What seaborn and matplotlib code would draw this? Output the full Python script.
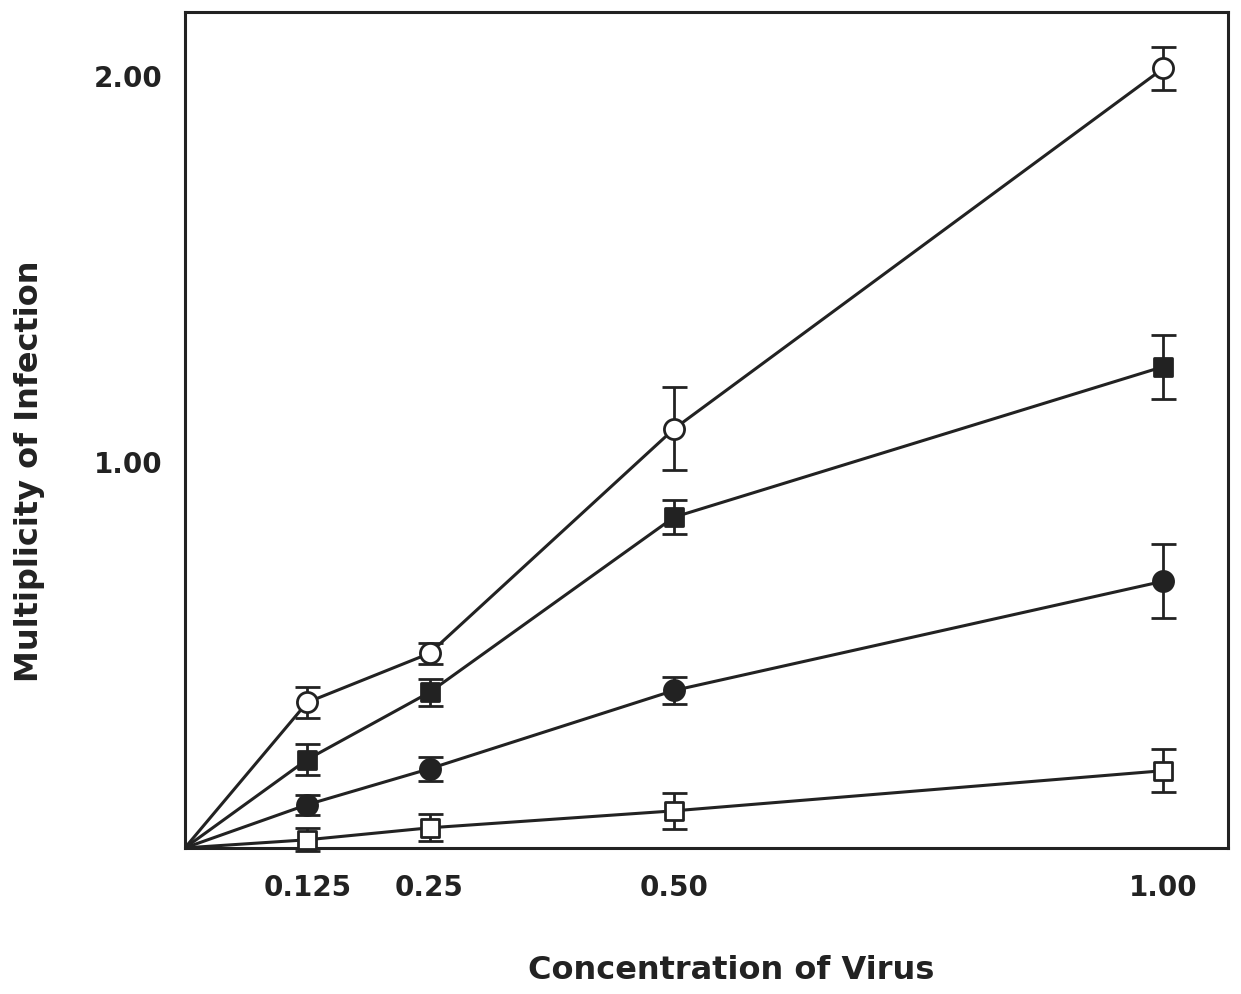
import numpy as np
import pandas as pd
import matplotlib
matplotlib.use("Agg")
import matplotlib.pyplot as plt
import seaborn as sns

# Virus concentration (relative) and measured multiplicity of infection
concentration = [0.0, 0.125, 0.25, 0.50, 1.00]

moi_open_circle = [0.0, 0.377, 0.504, 1.086, 2.020]
err_open_circle = [0.0, 0.040, 0.028, 0.108, 0.055]

moi_filled_square = [0.0, 0.229, 0.403, 0.857, 1.247]
err_filled_square = [0.0, 0.040, 0.035, 0.045, 0.083]

moi_filled_circle = [0.0, 0.112, 0.205, 0.408, 0.691]
err_filled_circle = [0.0, 0.026, 0.031, 0.034, 0.096]

moi_open_square = [0.0, 0.021, 0.052, 0.096, 0.200]
err_open_square = [0.0, 0.030, 0.035, 0.047, 0.055]

x_ticks = [0.125, 0.25, 0.50, 1.00]
x_tick_labels = ["0.125", "0.25", "0.50", "1.00"]
y_ticks = [1.0, 2.0]
y_tick_labels = ["1.00", "2.00"]

sns.set_theme(style="white")
plt.rcParams["font.family"] = ["DejaVu Sans"]

ink = "#222222"
series = [
    ("A", moi_open_circle, err_open_circle, "o", "white"),
    ("B", moi_filled_square, err_filled_square, "s", ink),
    ("C", moi_filled_circle, err_filled_circle, "o", ink),
    ("D", moi_open_square, err_open_square, "s", "white"),
]

frames = []
for name, vals, errs, _, _ in series:
    frames.append(pd.DataFrame({"conc": concentration, "moi": vals,
                                "err": errs, "series": name}))
df = pd.concat(frames, ignore_index=True)

fig = plt.figure(figsize=(12.41, 9.94), dpi=100)
ax = fig.add_axes([0.149, 0.147, 0.8405, 0.841])

sns.lineplot(data=df, x="conc", y="moi", hue="series",
             palette={s[0]: ink for s in series}, legend=False,
             linewidth=2.2, ax=ax, zorder=2)

for name, vals, errs, marker, face in series:
    sub = df[(df["series"] == name) & (df["conc"] > 0)]
    ax.errorbar(sub["conc"], sub["moi"], yerr=sub["err"], fmt="none",
                ecolor=ink, elinewidth=2.0, capsize=9, capthick=2.0,
                zorder=3, clip_on=False)
    ax.scatter(sub["conc"], sub["moi"], marker=marker,
               s=210 if marker == "o" else 170,
               facecolor=face, edgecolor=ink, linewidths=2.0, zorder=4,
               clip_on=False)

ax.set_xlim(0, 1.066)
ax.set_ylim(0, 2.166)

ax.set_xticks(x_ticks)
ax.set_xticklabels(x_tick_labels)
ax.set_yticks(y_ticks)
ax.set_yticklabels(y_tick_labels)

ax.tick_params(axis="both", direction="out", length=6, width=2, color=ink,
               labelsize=20, labelcolor=ink)
ax.tick_params(axis="x", pad=13)
ax.tick_params(axis="y", pad=10)
for lbl in ax.get_xticklabels() + ax.get_yticklabels():
    lbl.set_fontweight("bold")

for sp in ax.spines.values():
    sp.set_visible(True)
    sp.set_color(ink)
    sp.set_linewidth(2.2)

ax.set_xlabel("Concentration of Virus", fontsize=23, fontweight="bold",
              color=ink)
ax.xaxis.set_label_coords(0.524, -0.128)
ax.set_ylabel("Multiplicity of Infection", fontsize=23, fontweight="bold",
              color=ink)
ax.yaxis.set_label_coords(-0.134, 0.45)
ax.grid(False)

fig.savefig("out.png", dpi=100, facecolor="white")
